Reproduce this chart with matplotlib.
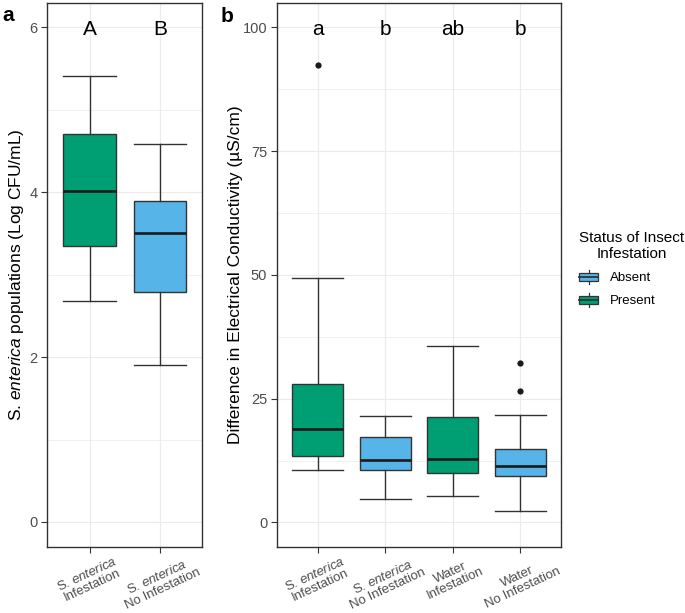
import matplotlib
matplotlib.use("Agg")
import matplotlib.pyplot as plt
from matplotlib.patches import Patch, Rectangle
from matplotlib.lines import Line2D
from matplotlib.legend_handler import HandlerBase
from matplotlib.ticker import MultipleLocator

plt.rcParams["font.family"] = ["Liberation Sans", "DejaVu Sans"]
plt.rcParams["mathtext.fontset"] = "custom"
plt.rcParams["mathtext.rm"] = "Liberation Sans"
plt.rcParams["mathtext.it"] = "Liberation Sans:italic"

GREEN = "#009E73"
BLUE = "#56B4E9"
EDGE = "#333333"
GRID = "#EBEBEB"
TICK_TXT = "#4D4D4D"

# Panel a: S. enterica populations (Log CFU/mL)
A_LABELS = ["S. $\\mathit{enterica}$\nInfestation", "S. $\\mathit{enterica}$\nNo Infestation"]
A_STATUS = ["Present", "Absent"]
A_LO = [2.68, 1.91]
A_Q1 = [3.35, 2.79]
A_MED = [4.02, 3.50]
A_Q3 = [4.71, 3.90]
A_HI = [5.41, 4.59]
A_OUT = [[], []]
A_LETTERS = ["A", "B"]

# Panel b: Difference in electrical conductivity (uS/cm)
B_LABELS = ["S. $\\mathit{enterica}$\nInfestation", "S. $\\mathit{enterica}$\nNo Infestation",
            "Water\nInfestation", "Water\nNo Infestation"]
B_STATUS = ["Present", "Absent", "Present", "Absent"]
B_LO = [10.5, 4.7, 5.3, 2.4]
B_Q1 = [13.5, 10.5, 9.9, 9.3]
B_MED = [18.9, 12.6, 12.9, 11.4]
B_Q3 = [28.0, 17.3, 21.2, 14.8]
B_HI = [49.3, 21.4, 35.7, 21.8]
B_OUT = [[92.4], [], [], [26.5, 32.3]]
B_LETTERS = ["a", "b", "ab", "b"]

STATUS_COLORS = {"Absent": BLUE, "Present": GREEN}


class BoxKeyHandler(HandlerBase):
    """Small boxplot glyph for the legend keys."""

    def create_artists(self, legend, orig_handle, xdescent, ydescent,
                       width, height, fontsize, trans):
        x0, y0 = -xdescent, -ydescent
        xm = x0 + width / 2
        lo = Line2D([xm, xm], [y0 - 0.05 * height, y0 + 0.2 * height], color=EDGE, lw=0.9, transform=trans)
        hi = Line2D([xm, xm], [y0 + 0.8 * height, y0 + 1.05 * height], color=EDGE, lw=0.9, transform=trans)
        box = Rectangle((x0, y0 + 0.2 * height), width, 0.6 * height,
                        facecolor=orig_handle.get_facecolor(), edgecolor=EDGE,
                        lw=0.9, transform=trans)
        med = Line2D([x0, x0 + width], [y0 + 0.5 * height] * 2, color=EDGE, lw=1.3, transform=trans)
        return [lo, hi, box, med]


def draw_panel(ax, labels, status, lo, q1, med, q3, hi, out, letters, letter_y):
    stats = []
    for i in range(len(labels)):
        stats.append(dict(med=med[i], q1=q1[i], q3=q3[i], whislo=lo[i],
                          whishi=hi[i], fliers=out[i]))
    pos = list(range(len(labels)))
    art = ax.bxp(stats, positions=pos, widths=0.75, patch_artist=True,
                 boxprops=dict(edgecolor=EDGE, linewidth=1.0),
                 medianprops=dict(color="#1a1a1a", linewidth=1.9),
                 whiskerprops=dict(color=EDGE, linewidth=1.0),
                 capprops=dict(color=EDGE, linewidth=1.0),
                 capwidths=0.75,
                 flierprops=dict(marker="o", markerfacecolor="#1a1a1a",
                                 markeredgecolor="none", markersize=4.5),
                 zorder=3)
    for patch, s in zip(art["boxes"], status):
        patch.set_facecolor(STATUS_COLORS[s])

    for i, letter in enumerate(letters):
        ax.annotate(letter, xy=(i, letter_y), xytext=(0, -5.3), textcoords="offset points",
                    ha="center", va="baseline", fontsize=15, color="black")

    ax.set_xticks(pos)
    ax.set_xticklabels(labels, rotation=25, ha="center", va="top", fontsize=9.5,
                       color=TICK_TXT, linespacing=1.0)
    ax.set_xlim(-0.6, len(labels) - 0.4)
    ax.grid(True, which="major", color=GRID, linewidth=0.8, zorder=0)
    ax.grid(True, which="minor", axis="y", color=GRID, linewidth=0.5, zorder=0)
    ax.set_axisbelow(True)
    ax.tick_params(axis="both", which="major", length=4, width=0.8, color=EDGE,
                   pad=3, labelsize=10.5, labelcolor=TICK_TXT)
    ax.tick_params(axis="x", labelsize=9.5, pad=1.5)
    ax.tick_params(which="minor", length=0)
    for sp in ax.spines.values():
        sp.set_color(EDGE)
        sp.set_linewidth(1.0)


fig = plt.figure(figsize=(6.85, 6.13), dpi=100)
ax_a = fig.add_axes([0.0691, 0.1082, 0.2263, 0.8874])
ax_b = fig.add_axes([0.4044, 0.1082, 0.4146, 0.8874])

draw_panel(ax_a, A_LABELS, A_STATUS, A_LO, A_Q1, A_MED, A_Q3, A_HI, A_OUT, A_LETTERS, 6)
ax_a.set_ylim(-0.3, 6.3)
ax_a.yaxis.set_major_locator(MultipleLocator(2))
ax_a.yaxis.set_minor_locator(MultipleLocator(1))
ax_a.set_ylabel("S. $\\mathit{enterica}$ populations (Log CFU/mL)", fontsize=12.5, color="black")
ax_a.yaxis.set_label_coords(-0.137, 0.5)

draw_panel(ax_b, B_LABELS, B_STATUS, B_LO, B_Q1, B_MED, B_Q3, B_HI, B_OUT, B_LETTERS, 100)
ax_b.set_ylim(-4.9, 105)
ax_b.yaxis.set_major_locator(MultipleLocator(25))
ax_b.yaxis.set_minor_locator(MultipleLocator(12.5))
ax_b.set_ylabel("Difference in Electrical Conductivity (\u00b5S/cm)", fontsize=12.5, color="black")
ax_b.yaxis.set_label_coords(-0.121, 0.5)

fig.text(0.004, 1 - 20.7 / 613, "a", fontsize=15, fontweight="bold", va="baseline", ha="left")
fig.text(0.322, 1 - 21.7 / 613, "b", fontsize=15, fontweight="bold", va="baseline", ha="left")

handles = [Patch(facecolor=STATUS_COLORS[s], label=s) for s in ["Absent", "Present"]]
leg = fig.legend(handles=handles, handler_map={Patch: BoxKeyHandler()},
                 title="Status of Insect\nInfestation", loc="upper left",
                 bbox_to_anchor=(579 / 685, 1 - 231 / 613), frameon=False,
                 fontsize=9.5, title_fontsize=11, alignment="left",
                 borderpad=0, borderaxespad=0, handlelength=1.45, handleheight=1.1,
                 handletextpad=0.9, labelspacing=0.7)
leg.get_title().set_multialignment("center")

fig.savefig("out.png", dpi=100, facecolor="white")
